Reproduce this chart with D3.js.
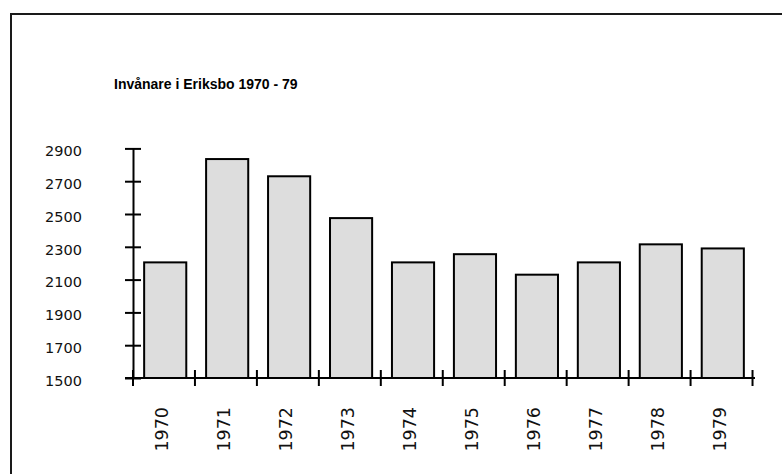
<!DOCTYPE html>
<html>
<head>
<meta charset="utf-8">
<script src="https://cdn.jsdelivr.net/npm/d3@7"></script>
<style>
  body { margin: 0; background: #fff; }
  svg { display: block; }
</style>
</head>
<body>
<div class="graph-content"></div>
<script>
var years = ["1970", "1971", "1972", "1973", "1974", "1975", "1976", "1977", "1978", "1979"];
var invanare = [2205, 2835, 2730, 2475, 2205, 2255, 2130, 2205, 2315, 2290];
var yTicks = [1500, 1700, 1900, 2100, 2300, 2500, 2700, 2900];
var title = "Invånare i Eriksbo 1970 - 79";

var width = 782, height = 474;
var plotLeft = 133, plotRight = 755, plotBottom = 378, plotTop = 148.4;

var svg = d3.select(".graph-content").append("svg")
    .attr("width", width)
    .attr("height", height);

// frame (only top and left edges are visible)
svg.append("path")
    .attr("d", "M11," + height + "V14H" + width)
    .attr("fill", "none")
    .attr("stroke", "#1a1a1a")
    .attr("stroke-width", 2);

svg.append("text")
    .attr("x", 114)
    .attr("y", 89)
    .attr("font-family", "Liberation Sans, Arial, sans-serif")
    .attr("font-weight", "bold")
    .attr("font-size", 14)
    .attr("fill", "#000")
    .text(title);

var x = d3.scaleBand().domain(years).range([plotLeft, plotRight]).paddingInner(0.32).paddingOuter(0.18);
var y = d3.scaleLinear().domain([1500, 2900]).range([plotBottom, plotTop]);

// bars
svg.selectAll("rect.bar")
    .data(invanare)
    .enter().append("rect")
    .attr("class", "bar")
    .attr("x", function(d, i) { return x(years[i]); })
    .attr("y", function(d) { return y(d); })
    .attr("width", x.bandwidth())
    .attr("height", function(d) { return y(1500) - y(d); })
    .attr("fill", "#dddddd")
    .attr("stroke", "#000")
    .attr("stroke-width", 2);

// y axis
var yAxis = svg.append("g")
    .attr("transform", "translate(" + plotLeft + ",0)")
    .call(d3.axisLeft(y).tickValues(yTicks).tickSize(0).tickPadding(51).tickFormat(d3.format("d")));
yAxis.select(".domain").attr("stroke", "#000").attr("stroke-width", 2);
yAxis.selectAll(".tick line").attr("x1", -8).attr("x2", 8).attr("stroke", "#000").attr("stroke-width", 2);
yAxis.selectAll(".tick text")
    .attr("dy", "0.5em")
    .attr("font-family", "DejaVu Sans, Verdana, sans-serif")
    .attr("font-size", 14.5)
    .attr("fill", "#111");

// x axis line
svg.append("line")
    .attr("x1", plotLeft - 8)
    .attr("x2", plotRight)
    .attr("y1", y(1500))
    .attr("y2", y(1500))
    .attr("stroke", "#000")
    .attr("stroke-width", 2);

// x ticks at category boundaries
var edges = d3.range(years.length + 1);
svg.selectAll("line.xtick")
    .data(edges)
    .enter().append("line")
    .attr("class", "xtick")
    .attr("x1", function(i) { return x.range()[0] + i * x.step(); })
    .attr("x2", function(i) { return x.range()[0] + i * x.step(); })
    .attr("y1", y(1500) - 8)
    .attr("y2", y(1500) + 8)
    .attr("stroke", "#000")
    .attr("stroke-width", 2);

// x labels, rotated
svg.selectAll("text.xlabel")
    .data(years)
    .enter().append("text")
    .attr("class", "xlabel")
    .attr("transform", function(d) {
        return "translate(" + (x(d) + x.bandwidth() / 2 - 3) + ",407) rotate(-90)";
    })
    .attr("dy", "0.35em")
    .attr("text-anchor", "end")
    .attr("font-family", "DejaVu Sans, Verdana, sans-serif")
    .attr("font-size", 17.5)
    .attr("fill", "#111")
    .text(function(d) { return d; });
</script>
</body>
</html>
